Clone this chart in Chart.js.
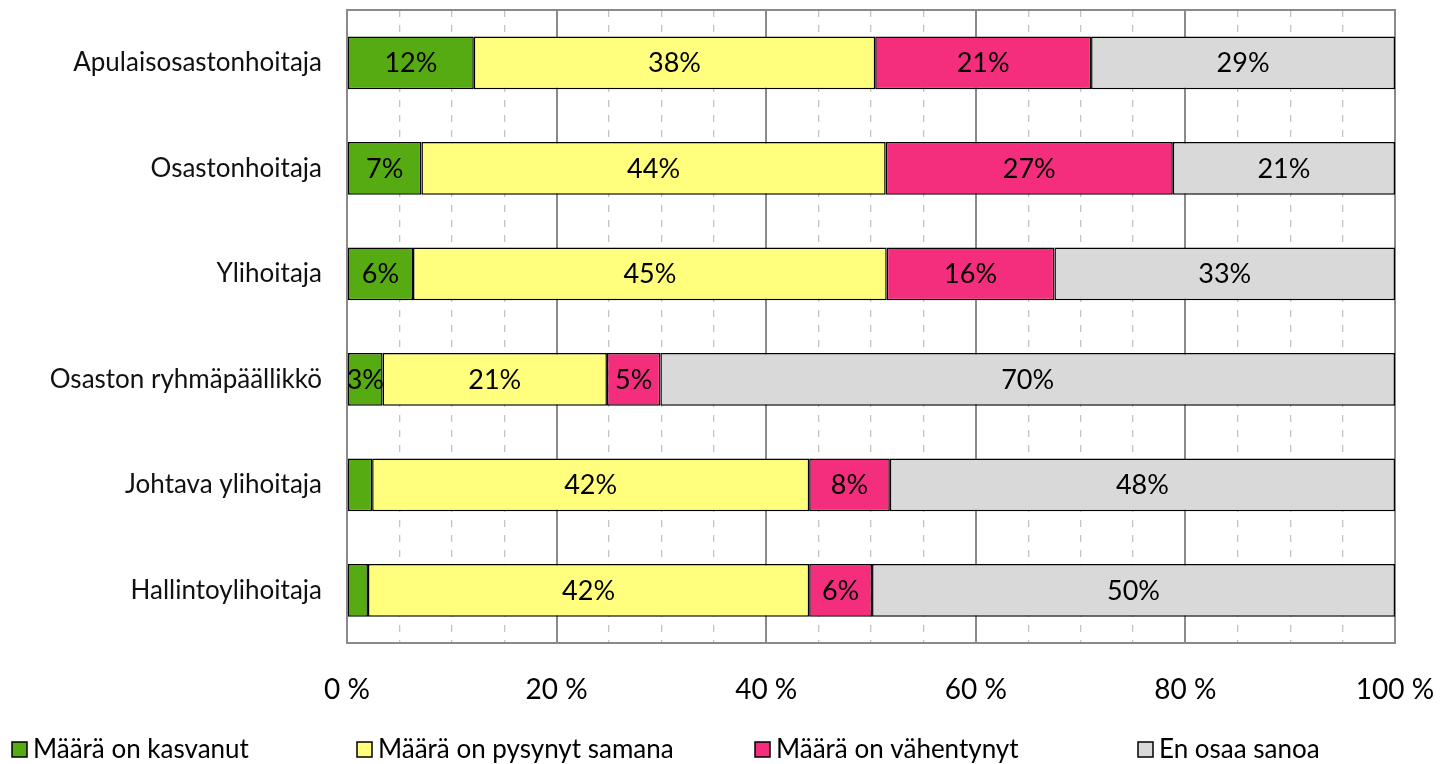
<!DOCTYPE html>
<html>
<head>
<meta charset="utf-8">
<script src="https://cdn.jsdelivr.net/npm/chart.js@4"></script>
<style>
  html, body { margin: 0; padding: 0; background: #fff; }
  #wrap { width: 1445px; height: 764px; }
</style>
</head>
<body>
<div id="wrap"><canvas id="myChart" width="1445" height="764"></canvas></div>
<script>
// data (percent of answers)
var categories = ['Apulaisosastonhoitaja', 'Osastonhoitaja', 'Ylihoitaja', 'Osaston ryhmäpäällikkö', 'Johtava ylihoitaja', 'Hallintoylihoitaja'];
var seriesNames = ['Määrä on kasvanut', 'Määrä on pysynyt samana', 'Määrä on vähentynyt', 'En osaa sanoa'];
var kasvanut   = [12.1, 7.1, 6.3, 3.4, 2.4, 2.0];
var samana     = [38.3, 44.3, 45.2, 21.4, 41.7, 42.1];
var vahentynyt = [20.6, 27.4, 16.0, 5.1, 7.7, 6.0];
var enOsaa     = [29.0, 21.2, 32.5, 70.1, 48.2, 49.9];
var xTicks = [0, 20, 40, 60, 80, 100];

var colors = ['#56aa12', '#ffff7d', '#f52d7d', '#d9d9d9'];
var fontName = 'Lato, "Open Sans", sans-serif';

// legend item left edges (layout only)
var legendLeft = [12, 357, 755, 1138];

var datasets = [kasvanut, samana, vahentynyt, enOsaa].map(function(vals, i) {
    return {
        label: seriesNames[i],
        data: vals,
        backgroundColor: colors[i],
        borderColor: '#000',
        borderWidth: 1.5,
        borderSkipped: false,
        categoryPercentage: 0.5,
        barPercentage: 1.0
    };
});

// frame around the plot area
var framePlugin = {
    id: 'frame',
    beforeDatasetsDraw: function(chart) {
        var a = chart.chartArea, ctx = chart.ctx;
        ctx.save();
        ctx.strokeStyle = '#8a8a8a';
        ctx.lineWidth = 2;
        ctx.strokeRect(a.left, a.top, a.right - a.left, a.bottom - a.top);
        ctx.restore();
    }
};

// percent labels in the middle of each segment
var valueLabels = {
    id: 'valueLabels',
    afterDatasetsDraw: function(chart) {
        var ctx = chart.ctx;
        ctx.save();
        ctx.font = '27px ' + fontName;
        ctx.fillStyle = '#000';
        ctx.textAlign = 'center';
        ctx.textBaseline = 'middle';
        chart.data.datasets.forEach(function(ds, di) {
            var meta = chart.getDatasetMeta(di);
            meta.data.forEach(function(bar, j) {
                var v = ds.data[j];
                if (v < 3) return;
                var cx = (bar.x + bar.base) / 2;
                ctx.fillText(Math.round(v) + '%', cx, bar.y + 1);
            });
        });
        ctx.restore();
    }
};

// legend row under the chart
var legendRow = {
    id: 'legendRow',
    afterDraw: function(chart) {
        var ctx = chart.ctx;
        var y = 749;
        ctx.save();
        ctx.font = '26px ' + fontName;
        ctx.textBaseline = 'middle';
        ctx.textAlign = 'left';
        chart.data.datasets.forEach(function(ds, i) {
            var x = legendLeft[i];
            ctx.fillStyle = ds.backgroundColor;
            ctx.fillRect(x, y - 7, 15, 15);
            ctx.strokeStyle = '#000';
            ctx.lineWidth = 1.5;
            ctx.strokeRect(x, y - 7, 15, 15);
            ctx.fillStyle = '#000';
            ctx.fillText(ds.label, x + 21, y + 1);
        });
        ctx.restore();
    }
};

var ctx = document.getElementById('myChart').getContext('2d');
var chart = new Chart(ctx, {
    type: 'bar',
    data: {
        labels: categories,
        datasets: datasets
    },
    options: {
        indexAxis: 'y',
        responsive: false,
        animation: false,
        layout: { padding: { top: 10, right: 50, left: 0, bottom: 0 } },
        plugins: {
            legend: { display: false },
            tooltip: { enabled: false }
        },
        scales: {
            x: {
                stacked: true,
                min: 0,
                max: 100,
                afterFit: function(scale) {
                    scale.height = 121;
                    scale.paddingLeft = 0;
                    scale.paddingRight = 0;
                },
                afterBuildTicks: function(scale) {
                    var t = [];
                    for (var v = 0; v <= 100; v += 5) t.push({ value: v });
                    scale.ticks = t;
                },
                ticks: {
                    autoSkip: false,
                    maxRotation: 0,
                    padding: 30,
                    color: '#000',
                    font: { family: fontName, size: 28 },
                    callback: function(v) { return xTicks.indexOf(v) >= 0 ? v + ' %' : ''; }
                },
                grid: {
                    drawTicks: false,
                    color: function(c) { return (c.tick && c.tick.value % 20 === 0) ? '#8a8a8a' : '#c4c4c4'; },
                    lineWidth: function(c) { return (c.tick && c.tick.value % 20 === 0) ? 2 : 1.3; }
                },
                border: {
                    display: false,
                    dash: function(c) { return (c.tick && c.tick.value % 20 !== 0) ? [7, 8] : []; }
                }
            },
            y: {
                stacked: true,
                afterFit: function(scale) {
                    scale.width = 347;
                    scale.paddingTop = 0;
                    scale.paddingBottom = 0;
                },
                ticks: {
                    padding: 25,
                    color: '#111',
                    font: { family: fontName, size: 26 }
                },
                grid: { display: false, drawTicks: false },
                border: { display: false }
            }
        }
    },
    plugins: [framePlugin, valueLabels, legendRow]
});
</script>
</body>
</html>
